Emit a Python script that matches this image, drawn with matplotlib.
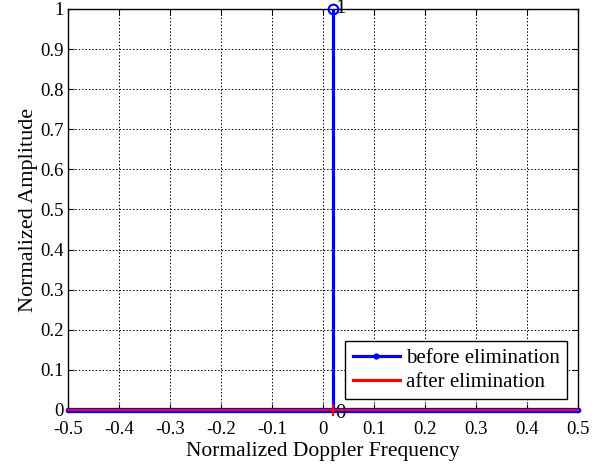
import matplotlib
matplotlib.use("Agg")
import matplotlib.pyplot as plt
from matplotlib.lines import Line2D

plt.rcParams['font.family'] = ['Liberation Serif', 'DejaVu Serif']

# data
baseline_f = [-0.5, 0.5]
baseline_before = [0, 0]
baseline_after = [0, 0]
peak_f = 0.02
peak_before = 1
peak_after = 0
xticks = [-0.5, -0.4, -0.3, -0.2, -0.1, 0, 0.1, 0.2, 0.3, 0.4, 0.5]
yticks = [0, 0.1, 0.2, 0.3, 0.4, 0.5, 0.6, 0.7, 0.8, 0.9, 1]

fig = plt.figure(figsize=(6.05, 4.66), dpi=100)
ax = fig.add_axes([0.1124, 0.1202, 0.843, 0.8605])

ax.plot(baseline_f, baseline_before, color='#0000ff', lw=3.8, marker='.', ms=6,
        solid_capstyle='round', zorder=3, clip_on=False)
ax.plot([peak_f, peak_f], [0, peak_before], color='#0000ff', lw=2.3, zorder=3)
ax.plot([peak_f], [peak_before], marker='o', mfc='none', mec='#0000ff', mew=1.5, ms=7,
        zorder=4, clip_on=False)
ax.plot(baseline_f, baseline_after, color='#ff0000', lw=1.6, zorder=4, clip_on=False)
ax.plot([peak_f], [peak_after], marker='+', color='#ff0000', mew=1.5, ms=8, zorder=5,
        clip_on=False)

ax.text(peak_f + 0.004, peak_before, str(peak_before), fontsize=15, ha='left', va='center')
ax.text(peak_f + 0.004, peak_after - 0.008, str(peak_after), fontsize=15, ha='left', va='center')

ax.set_xlim(-0.5, 0.5)
ax.set_ylim(0, 1)
ax.set_xticks(xticks)
ax.set_yticks(yticks)
ax.set_xticklabels([f"{t:g}" for t in xticks])
ax.set_yticklabels([f"{t:g}" for t in yticks])
ax.tick_params(direction='in', top=True, right=True, labelsize=13.5, length=4)
ax.tick_params(axis='x', pad=8)
ax.tick_params(axis='y', pad=3)
ax.grid(True, color='black', linestyle=(0, (1.5, 2)), lw=0.7)
for s in ax.spines.values():
    s.set_linewidth(1.0)

ax.set_xlabel('Normalized Doppler Frequency', fontsize=15.5, labelpad=3)
ax.set_ylabel('Normalized Amplitude', fontsize=16, labelpad=2)

handles = [Line2D([], [], color='#0000ff', lw=2.3, marker='.', ms=7),
           Line2D([], [], color='#ff0000', lw=2.3)]
leg = ax.legend(handles, ['before elimination', 'after elimination'], loc='lower right',
                bbox_to_anchor=(0.978, 0.027), fontsize=15, frameon=True, fancybox=False,
                edgecolor='black', framealpha=1, handlelength=2.3, borderpad=0.35,
                labelspacing=0.2, handletextpad=0.25, borderaxespad=0)
leg.get_frame().set_linewidth(1.0)

fig.savefig('out.png', dpi=100)
